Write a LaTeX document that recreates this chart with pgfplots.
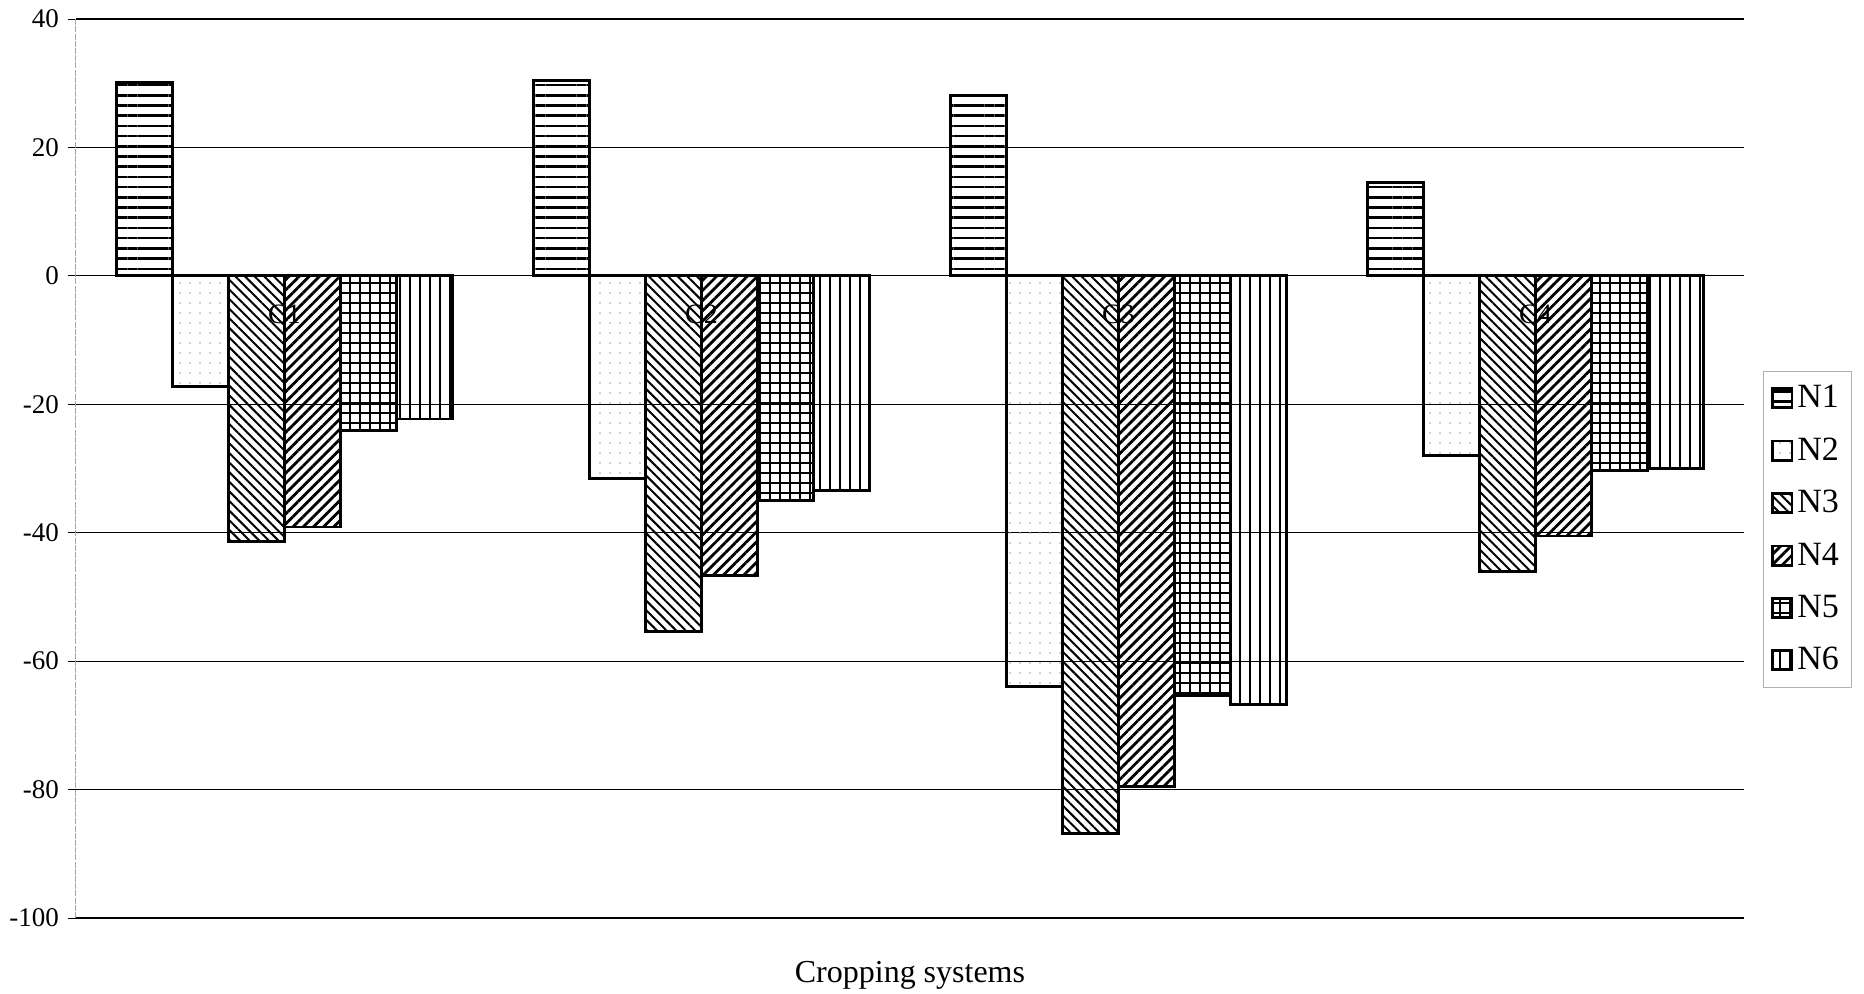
\documentclass[border=0pt]{standalone}
\usepackage{fontspec}
\setmainfont{Liberation Serif}
\usepackage{pgfplots}
\pgfplotsset{compat=1.18}
\usetikzlibrary{patterns.meta}
\begin{document}
\begin{tikzpicture}
\path[use as bounding box] (-38pt,-37.5pt) rectangle (894pt,459pt);
\begin{axis}[
  at={(0,0)}, anchor=south west,
  scale only axis,
  width=834pt, height=449.5pt,
  xmin=-0.5, xmax=3.5,
  ymin=-100, ymax=40,
  ytick={-100,-80,-60,-40,-20,0,20,40},
  xtick=\empty,
  axis x line=none,
  axis y line*=left,
  y axis line style={draw=gray!70, line width=0.5pt, dash pattern=on 3pt off 0.6pt, -},
  ymajorgrids,
  grid style={black, line width=0.6pt},
  tick align=outside,
  major tick length=4pt,
  ytick style={black, line width=0.5pt},
  /pgf/number format/assume math mode=true,
  yticklabel style={font=\fontsize{13.5}{13.5}\selectfont, xshift=-1pt},
  clip=false,
  legend style={at={(1.0114,0.6085)}, anchor=north west,
    draw=gray!60, line width=0.4pt, fill=white,
    font=\fontsize{17}{17}\selectfont,
    row sep=9.5pt, inner xsep=4pt, inner ysep=5pt},
  legend cell align=left,
  legend image code/.code={\draw[#1] (0pt,-4.8pt) rectangle (9.6pt,4.8pt);},
]
% category labels drawn first so bars lie above them
\addplot[draw=none, mark=none, forget plot,
  nodes near coords, point meta=explicit symbolic,
  every node near coord/.style={anchor=center, font=\fontsize{14}{14}\selectfont}]
  coordinates {(0,-6)[C1] (1,-6)[C2] (2,-6)[C3] (3,-6)[C4]};

\addplot[ybar, bar width=0.134, bar shift=-0.335, draw=black, line width=1.4pt,
  pattern={Lines[angle=0, distance=5.1pt, line width=1.3pt]}, pattern color=black]
  coordinates {(0,30.1) (1,30.4) (2,28.1) (3,14.6)};
\addlegendentry{N1}
\addplot[ybar, bar width=0.134, bar shift=-0.201, draw=black, line width=1.4pt,
  pattern={Dots[distance=5pt, radius=0.4pt]}, pattern color=gray!70]
  coordinates {(0,-17.2) (1,-31.6) (2,-63.9) (3,-28.0)};
\addlegendentry{N2}
\addplot[ybar, bar width=0.134, bar shift=-0.067, draw=black, line width=1.4pt,
  pattern={Lines[angle=-45, distance=3.4pt, line width=1pt]}, pattern color=black]
  coordinates {(0,-41.4) (1,-55.4) (2,-86.8) (3,-46.1)};
\addlegendentry{N3}
\addplot[ybar, bar width=0.134, bar shift=0.067, draw=black, line width=1.4pt,
  pattern={Lines[angle=45, distance=3.6pt, line width=1.4pt]}, pattern color=black]
  coordinates {(0,-39.1) (1,-46.6) (2,-79.5) (3,-40.5)};
\addlegendentry{N4}
\addplot[ybar, bar width=0.134, bar shift=0.201, draw=black, line width=1.4pt,
  pattern={Hatch[angle=0, distance=5pt, line width=1.4pt]}, pattern color=black]
  coordinates {(0,-24.1) (1,-35.0) (2,-65.4) (3,-30.3)};
\addlegendentry{N5}
\addplot[ybar, bar width=0.134, bar shift=0.335, draw=black, line width=1.4pt,
  pattern={Lines[angle=90, distance=5pt, line width=0.8pt]}, pattern color=black]
  coordinates {(0,-22.3) (1,-33.4) (2,-66.7) (3,-30.0)};
\addlegendentry{N6}
\node[font=\fontsize{16}{16}\selectfont] at (axis description cs:0.5,0) [yshift=-28.5pt] {Cropping systems};
\end{axis}
\end{tikzpicture}
\end{document}
